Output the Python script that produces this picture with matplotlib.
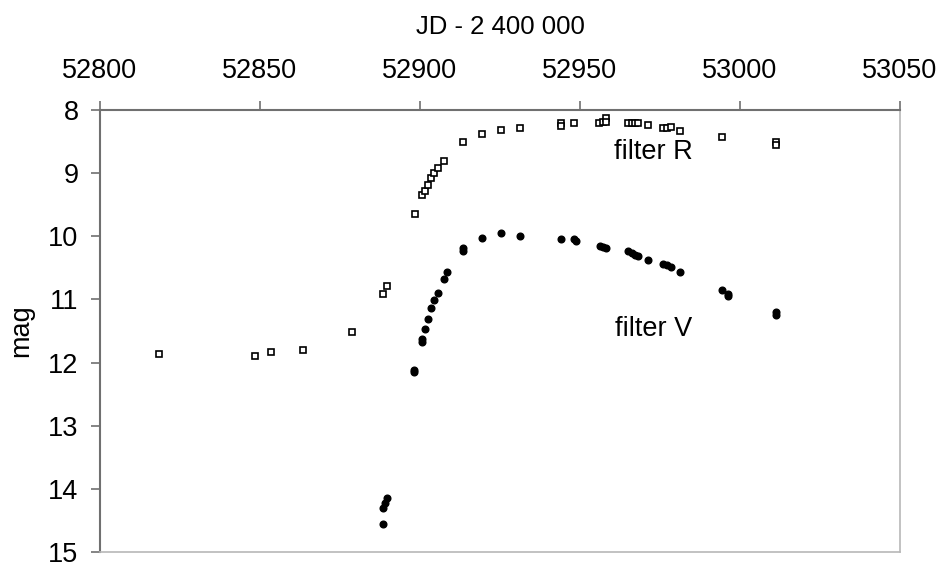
import numpy as np
import matplotlib
matplotlib.use('Agg')
import matplotlib.pyplot as plt

plt.rcParams['font.family'] = ['Liberation Sans', 'DejaVu Sans']

# filter R (open squares)
jd_r = [52818.5, 52848.5, 52853.3, 52863.4, 52878.6, 52888.5, 52889.6, 52898.4,
        52900.5, 52901.6, 52902.4, 52903.4, 52904.4, 52905.5, 52907.5, 52913.3,
        52919.4, 52925.3, 52931.3, 52944.0, 52944.0, 52948.2, 52956.0, 52957.3,
        52958.1, 52958.1, 52965.1, 52966.1, 52967.2, 52968.2, 52971.1, 52976.0,
        52977.1, 52978.3, 52981.2, 52994.3, 53011.1, 53011.1]
mag_r = [11.87, 11.90, 11.84, 11.80, 11.51, 10.92, 10.79, 9.65,
         9.35, 9.29, 9.19, 9.08, 8.99, 8.92, 8.81, 8.51,
         8.38, 8.32, 8.28, 8.21, 8.25, 8.21, 8.20, 8.19,
         8.13, 8.19, 8.20, 8.20, 8.20, 8.21, 8.24, 8.28,
         8.28, 8.27, 8.34, 8.43, 8.50, 8.56]

# filter V (filled circles)
jd_v = [52888.5, 52888.5, 52889.0, 52889.6, 52898.2, 52898.2, 52900.5, 52900.5,
        52901.6, 52902.4, 52903.3, 52904.4, 52905.5, 52907.5, 52908.3, 52913.3,
        52913.3, 52919.4, 52925.3, 52931.3, 52944.0, 52948.2, 52948.9, 52956.4,
        52957.3, 52958.1, 52965.1, 52966.1, 52967.2, 52968.2, 52971.1, 52976.0,
        52977.1, 52978.3, 52981.3, 52994.3, 52996.1, 52996.1, 53011.1, 53011.1]
mag_v = [14.55, 14.31, 14.23, 14.15, 12.11, 12.15, 11.62, 11.67,
         11.47, 11.31, 11.13, 11.01, 10.90, 10.67, 10.57, 10.19,
         10.23, 10.02, 9.95, 9.99, 10.04, 10.05, 10.08, 10.16,
         10.17, 10.18, 10.24, 10.27, 10.30, 10.31, 10.37, 10.44,
         10.46, 10.49, 10.56, 10.85, 10.92, 10.95, 11.20, 11.25]

x_ticks = [52800, 52850, 52900, 52950, 53000, 53050]
y_ticks = [8, 9, 10, 11, 12, 13, 14, 15]

fs = 19.5

fig = plt.figure(figsize=(9.43, 5.67), dpi=100)
ax = fig.add_axes([100/943, 15/567, 800/943, 442/567])

ax.plot(jd_r, mag_r, 's', ms=4.0, mfc='white', mec='black', mew=1.2, ls='none')
ax.plot(jd_v, mag_v, 'o', ms=4.8, mfc='black', mec='black', ls='none')

ax.set_xlim(52800, 53050)
ax.set_ylim(15, 8)
ax.set_xticks(x_ticks)
ax.set_yticks(y_ticks)

ax.xaxis.tick_top()
ax.xaxis.set_label_position('top')
ax.set_xlabel('JD - 2 400 000', fontsize=fs - 1, labelpad=17)
ax.set_ylabel('mag', fontsize=fs, labelpad=10)
ax.tick_params(axis='both', labelsize=fs, length=6.5, width=1.2,
               color='#707070', direction='out')
ax.tick_params(axis='x', pad=12.5)
ax.tick_params(axis='y', pad=9)

for side in ['top', 'left']:
    ax.spines[side].set_color('#707070')
    ax.spines[side].set_linewidth(1.5)
for side in ['bottom', 'right']:
    ax.spines[side].set_color('#b8b8b8')
    ax.spines[side].set_linewidth(1.2)

ax.text(52973, 8.67, 'filter R', fontsize=fs, ha='center', va='center')
ax.text(52973, 11.47, 'filter V', fontsize=fs, ha='center', va='center')

fig.savefig('out.png', dpi=100)
